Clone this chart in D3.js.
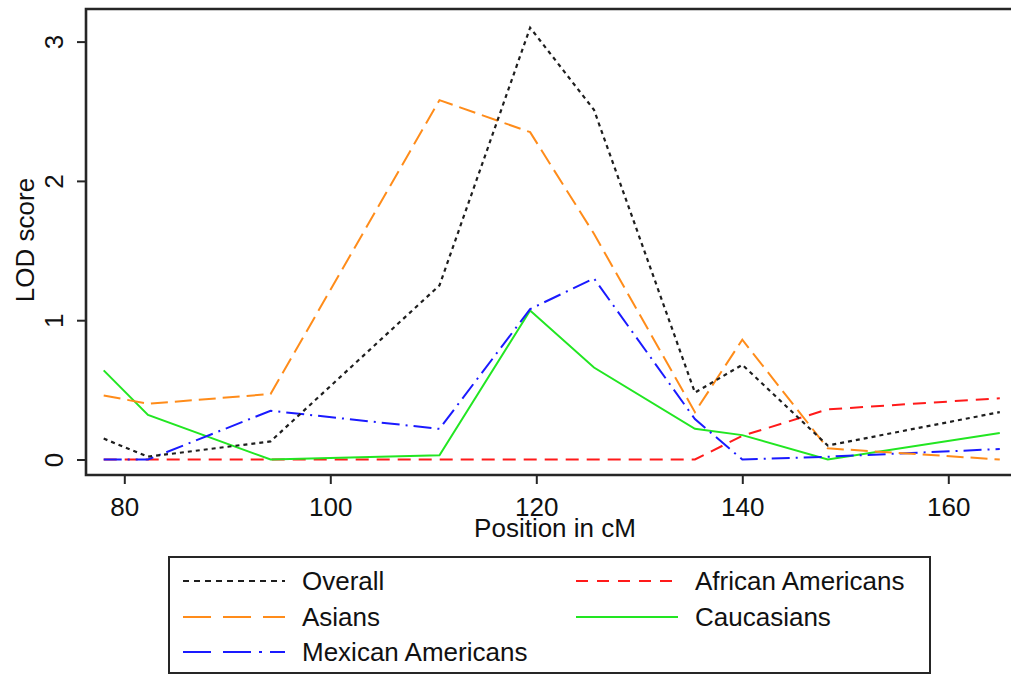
<!DOCTYPE html>
<html>
<head>
<meta charset="utf-8">
<script src="https://cdn.jsdelivr.net/npm/d3@7"></script>
<style>
  html, body { margin: 0; padding: 0; background: #fff; }
  svg { display: block; }
  text { font-family: "Liberation Sans", Arial, sans-serif; fill: #111; }
</style>
</head>
<body>
<svg id="chart" width="1011" height="675"></svg>
<script>
// ---- data ----
const positions = [78, 82.3, 94.2, 110.6, 119.4, 125.6, 135.4, 140, 148.3, 165];
const overall   = [0.15, 0.02, 0.13, 1.25, 3.10, 2.51, 0.48, 0.68, 0.10, 0.34];
const asians    = [0.46, 0.40, 0.47, 2.58, 2.35, 1.62, 0.34, 0.86, 0.08, 0.00];
const mexican   = [0.00, 0.00, 0.35, 0.22, 1.08, 1.30, 0.29, 0.00, 0.02, 0.075];
const african   = [0.00, 0.00, 0.00, 0.00, 0.00, 0.00, 0.00, 0.17, 0.36, 0.44];
const caucasian = [0.64, 0.32, 0.00, 0.03, 1.07, 0.66, 0.22, 0.175, 0.00, 0.19];
const xTicks = [80, 100, 120, 140, 160];
const yTicks = [0, 1, 2, 3];
const seriesNames = ["Overall", "African Americans", "Asians", "Caucasians", "Mexican Americans"];

const series = [
  { name: "Overall", values: overall, color: "#1e1e1e", dash: "4,4", legendDash: "6,5", width: 2.2 },
  { name: "African Americans", values: african, color: "#ff1a1a", dash: "13,8", legendDash: "12,9", width: 2 },
  { name: "Asians", values: asians, color: "#ff8c1a", dash: "17,7", legendDash: "28,12", width: 2 },
  { name: "Caucasians", values: caucasian, color: "#22e622", dash: null, legendDash: null, width: 2 },
  { name: "Mexican Americans", values: mexican, color: "#1a1aff", dash: "18,6,2,6", legendDash: "28,12,28,8,3,8", width: 2 }
];

const svg = d3.select("#chart");

const x = d3.scaleLinear().domain([80, 160]).range([124.3, 948.3]);
const y = d3.scaleLinear().domain([0, 3]).range([459.5, 41.6]);

const frameLeft = 86, frameTop = 9, frameBottom = 475, frameRight = 1020;

// lines
const line = d3.line().x(d => x(d[0])).y(d => y(d[1]));
const drawOrder = ["African Americans", "Caucasians", "Mexican Americans", "Asians", "Overall"];
drawOrder.forEach(n => {
  const s = series.find(d => d.name === n);
  const pts = positions.map((p, i) => [p, s.values[i]]);
  svg.append("path")
    .attr("d", line(pts))
    .attr("fill", "none")
    .attr("stroke", s.color)
    .attr("stroke-width", s.width)
    .attr("stroke-dasharray", s.dash)
    .attr("stroke-linejoin", "miter");
});

// frame (plot region border)
svg.append("path")
  .attr("d", `M${frameRight},${frameTop}H${frameLeft}V${frameBottom}H${frameRight}`)
  .attr("fill", "none").attr("stroke", "#262626").attr("stroke-width", 2.6);

// y axis
const yAxis = d3.axisLeft(y).tickValues(yTicks).tickSize(9).tickPadding(0).tickFormat(d3.format("d"));
const gy = svg.append("g").attr("transform", `translate(${frameLeft},0)`).call(yAxis);
gy.select(".domain").remove();
gy.selectAll(".tick line").attr("stroke", "#262626").attr("stroke-width", 2);
gy.selectAll(".tick text")
  .attr("x", null).attr("dy", null)
  .attr("transform", "translate(-23,0) rotate(-90)")
  .attr("text-anchor", "middle")
  .attr("font-size", 26)
  .style("font-family", "'Liberation Sans', Arial, sans-serif")
  .attr("fill", "#111");

// x axis
const xAxis = d3.axisBottom(x).tickValues(xTicks).tickSize(9).tickPadding(14).tickFormat(d3.format("d"));
const gx = svg.append("g").attr("transform", `translate(0,${frameBottom})`).call(xAxis);
gx.select(".domain").remove();
gx.selectAll(".tick line").attr("stroke", "#262626").attr("stroke-width", 2);
gx.selectAll(".tick text")
  .attr("font-size", 26)
  .style("font-family", "'Liberation Sans', Arial, sans-serif")
  .attr("fill", "#111");

// axis titles
svg.append("text").attr("x", 555).attr("y", 537).attr("text-anchor", "middle")
  .attr("font-size", 26).text("Position in cM");
svg.append("text").attr("transform", "translate(34,240) rotate(-90)").attr("text-anchor", "middle")
  .attr("font-size", 26).text("LOD score");

// legend
const lg = svg.append("g");
lg.append("rect").attr("x", 169).attr("y", 557).attr("width", 761).attr("height", 116)
  .attr("fill", "#fff").attr("stroke", "#262626").attr("stroke-width", 2);
const legendPos = [
  { c: 0, r: 0 }, { c: 1, r: 0 }, { c: 0, r: 1 }, { c: 1, r: 1 }, { c: 0, r: 2 }
];
const colX = [183, 576];
const rowY = [581, 617, 652];
seriesNames.forEach((n, i) => {
  const s = series.find(d => d.name === n);
  const p = legendPos[i];
  const lx = colX[p.c], ly = rowY[p.r];
  lg.append("line").attr("x1", lx).attr("x2", lx + 102).attr("y1", ly).attr("y2", ly)
    .attr("stroke", s.color).attr("stroke-width", 2).attr("stroke-dasharray", s.legendDash);
  lg.append("text").attr("x", lx + 119).attr("y", ly + 9).attr("font-size", 26).text(s.name);
});
</script>
</body>
</html>
